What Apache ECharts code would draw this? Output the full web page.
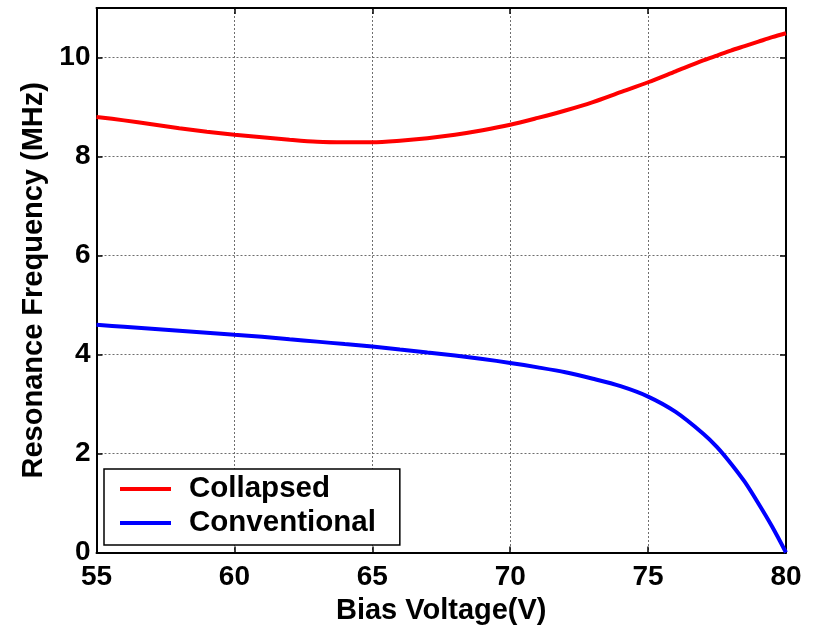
<!DOCTYPE html>
<html>
<head>
<meta charset="utf-8">
<script src="https://cdn.jsdelivr.net/npm/echarts@6/dist/echarts.min.js"></script>
<style>
  html, body { margin: 0; padding: 0; background: #fff; }
  #chart { width: 814px; height: 626px; }
</style>
</head>
<body>
<div id="chart"></div>
<script>
// Bias voltage (V)
const biasVoltage = [55, 56, 57, 58, 59, 60, 61, 62, 63, 64, 65, 66, 67, 68, 69, 70,
                     71, 72, 73, 74, 75, 76, 77, 77.5, 78, 78.5, 79, 79.5, 80];
// Resonance frequency (MHz), collapsed mode
const collapsed = [8.80, 8.73, 8.65, 8.57, 8.50, 8.44, 8.39, 8.34, 8.30, 8.29, 8.29, 8.32,
                   8.37, 8.44, 8.53, 8.64, 8.78, 8.93, 9.10, 9.30, 9.50, 9.72, 9.94,
                   10.04, 10.14, 10.23, 10.32, 10.41, 10.49];
// Resonance frequency (MHz), conventional mode
const conventional = [4.60, 4.56, 4.52, 4.48, 4.44, 4.40, 4.36, 4.31, 4.26, 4.21, 4.16, 4.10,
                      4.04, 3.98, 3.91, 3.83, 3.74, 3.64, 3.51, 3.36, 3.15, 2.84, 2.40,
                      2.13, 1.80, 1.43, 0.99, 0.52, 0.00];
const xTicks = [55, 60, 65, 70, 75, 80];
const yTicks = [0, 2, 4, 6, 8, 10];

const FONT = '"Liberation Sans", Arial, sans-serif';
const pairs = (ys) => biasVoltage.map((x, i) => [x, ys[i]]);

const chart = echarts.init(document.getElementById('chart'), null, { renderer: 'canvas' });

const axisLine = { show: true, onZero: false, lineStyle: { color: '#000', width: 2 } };
const tickIn = { show: true, inside: true, length: 6, lineStyle: { color: '#000', width: 1.5 } };
const gridLine = { show: true, lineStyle: { color: '#6e6e6e', type: [2, 2], width: 1 } };

chart.setOption({
  animation: false,
  backgroundColor: '#fff',
  grid: {
    left: 96.5, right: 28, top: 8, bottom: 73.5,
    containLabel: false, outerBoundsMode: 'none'
  },
  legend: {
    orient: 'vertical',
    left: 104,
    top: 469,
    data: ['Collapsed', 'Conventional'],
    icon: 'rect',
    itemWidth: 51,
    itemHeight: 4,
    itemGap: 4,
    padding: [5, 24, 7, 16],
    borderColor: '#000',
    borderWidth: 1.5,
    backgroundColor: '#fff',
    textStyle: {
      fontFamily: FONT, fontWeight: 'bold', fontSize: 29.5, color: '#000',
      lineHeight: 30, padding: [0, 0, 0, 13]
    }
  },
  xAxis: [{
    type: 'value', min: 55, max: 80, interval: 5,
    position: 'bottom',
    axisLine, axisTick: tickIn, splitLine: gridLine,
    axisLabel: {
      fontFamily: FONT, fontWeight: 'bold', fontSize: 28, color: '#000', margin: 11,
      formatter: (v) => (xTicks.includes(v) ? String(v) : '')
    },
    name: 'Bias Voltage(V)', nameLocation: 'middle', nameGap: 33,
    nameTextStyle: { fontFamily: FONT, fontWeight: 'bold', fontSize: 29, color: '#000' }
  }, {
    type: 'value', min: 55, max: 80, interval: 5,
    position: 'top',
    axisLine, axisTick: tickIn, splitLine: { show: false }, axisLabel: { show: false }
  }],
  yAxis: [{
    type: 'value', min: 0, max: 11, interval: 2,
    position: 'left',
    axisLine, axisTick: tickIn, splitLine: gridLine,
    axisLabel: {
      fontFamily: FONT, fontWeight: 'bold', fontSize: 28, color: '#000', margin: 6,
      formatter: (v) => (yTicks.includes(v) ? String(v) : '')
    },
    name: 'Resonance Frequency (MHz)', nameLocation: 'middle', nameGap: 48,
    nameTextStyle: { fontFamily: FONT, fontWeight: 'bold', fontSize: 29, color: '#000' }
  }, {
    type: 'value', min: 0, max: 11, interval: 2,
    position: 'right',
    axisLine, axisTick: tickIn, splitLine: { show: false }, axisLabel: { show: false }
  }],
  series: [{
    name: 'Collapsed', type: 'line', data: pairs(collapsed),
    smooth: 0.3, showSymbol: false, symbol: 'none',
    lineStyle: { color: '#ff0000', width: 4 }, itemStyle: { color: '#ff0000' }
  }, {
    name: 'Conventional', type: 'line', data: pairs(conventional),
    smooth: 0.3, showSymbol: false, symbol: 'none',
    lineStyle: { color: '#0000ff', width: 4 }, itemStyle: { color: '#0000ff' }
  }]
});
</script>
</body>
</html>
